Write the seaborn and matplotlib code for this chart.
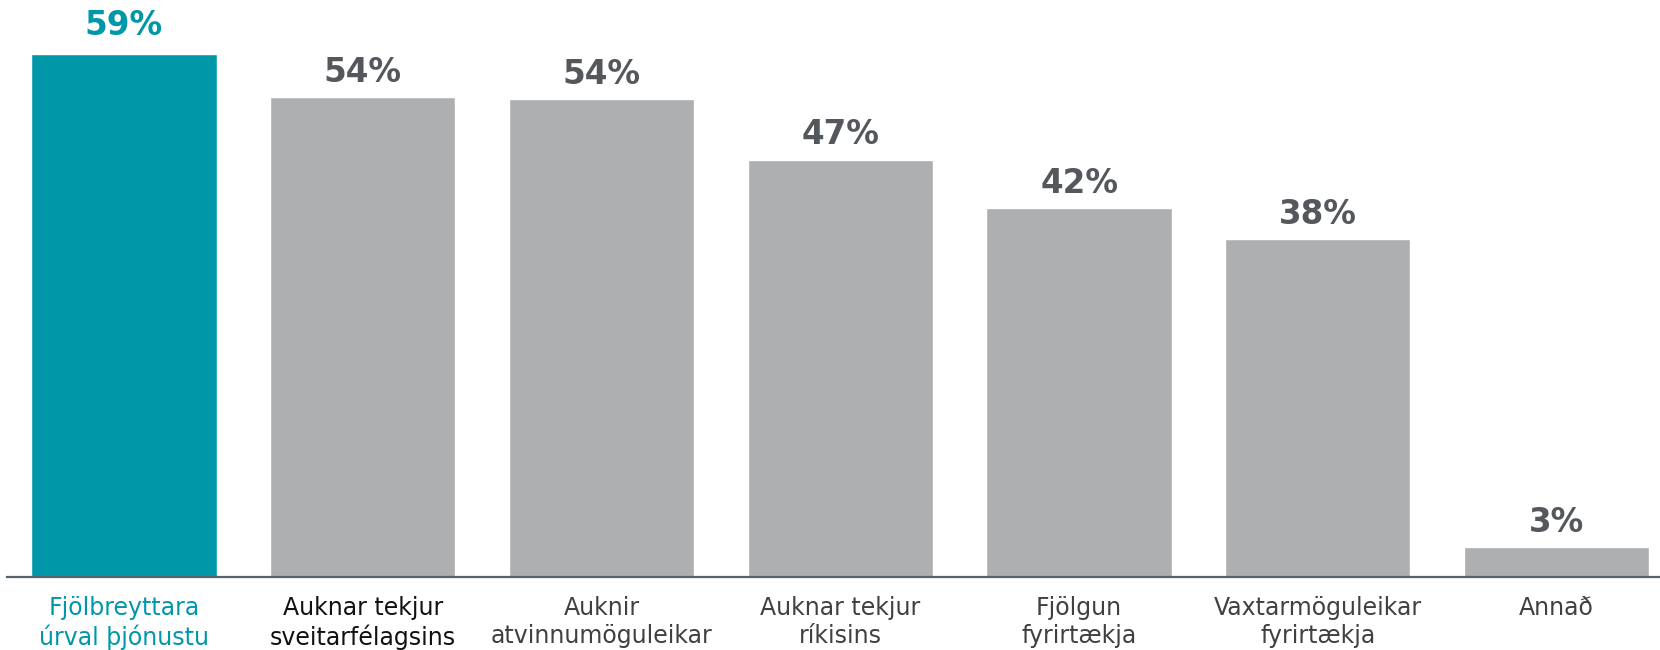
import matplotlib
matplotlib.use("Agg")
import matplotlib.pyplot as plt
import seaborn as sns
import pandas as pd

# data
categories = ['Fjölbreyttara\núrval þjónustu', 'Auknar tekjur\nsveitarfélagsins',
              'Auknir\natvinnumöguleikar', 'Auknar tekjur\nríkisins',
              'Fjölgun\nfyrirtækja', 'Vaxtarmöguleikar\nfyrirtækja', 'Annað']
values = [59.0, 54.1, 53.9, 47.1, 41.6, 38.1, 3.4]

teal = '#0098A8'
grey = '#AEAFB1'
bar_colors = [teal] + [grey] * 6
label_colors = [teal] + ['#54575C'] * 6
tick_colors = [teal, '#111111'] + ['#404040'] * 5

sns.set_style("white")
plt.rcParams['font.family'] = ['DejaVu Sans']

df = pd.DataFrame({'cat': categories, 'val': values})

fig = plt.figure(figsize=(16.6, 6.5), dpi=100)
ax = fig.add_axes([7 / 1660, 73 / 650, 1 - 7 / 1660, 577 / 650])

sns.barplot(data=df, x='cat', y='val', hue='cat', palette=bar_colors,
            width=0.776, legend=False, saturation=1, ax=ax)

ax.set(xlim=(-0.49, 6.433), ylim=(0, 65.1), xlabel='', ylabel='', yticks=[])
for s in ['top', 'right', 'left']:
    ax.spines[s].set_visible(False)
ax.spines['bottom'].set_color('#59616E')
ax.spines['bottom'].set_linewidth(1.6)

# value labels on top of bars
for i, v in enumerate(values):
    off = 14 if i == 0 else 11
    ax.annotate('%.0f%%' % v, (i, v), xytext=(0, off), textcoords='offset points',
                ha='center', va='baseline', fontsize=23.5, fontweight='bold',
                color=label_colors[i])

ax.tick_params(axis='x', length=0, pad=14, labelsize=17)
for lab, c in zip(ax.get_xticklabels(), tick_colors):
    lab.set_color(c)
    lab.set_linespacing(1.2)

fig.savefig('out.png', dpi=100)
